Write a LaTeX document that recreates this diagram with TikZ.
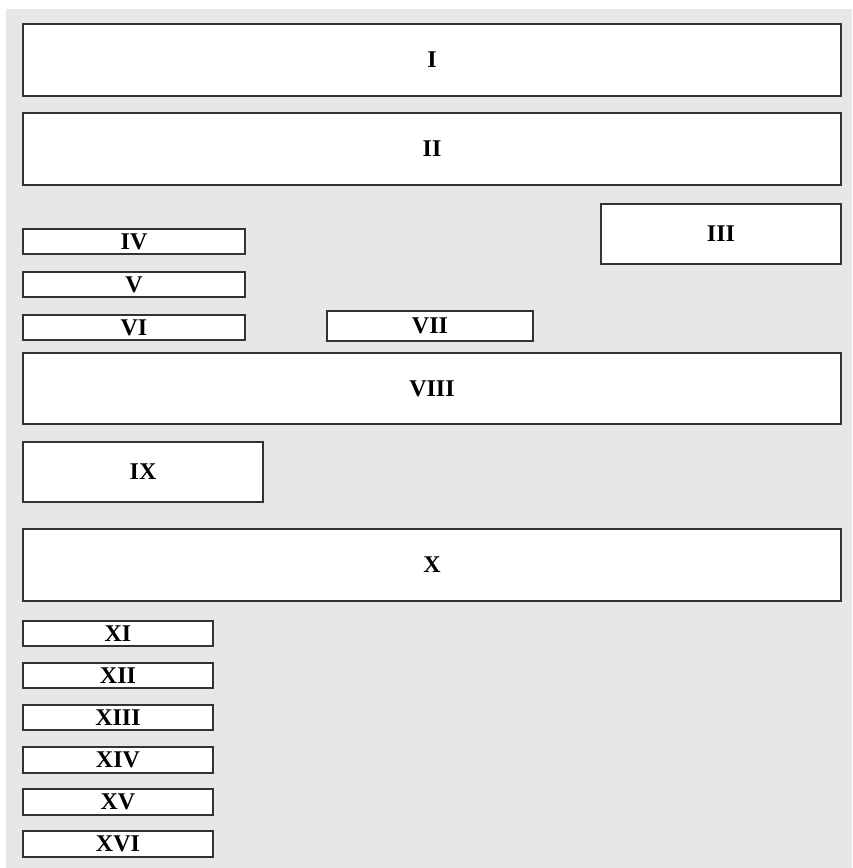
\documentclass[tikz,border=0pt]{standalone}
\usepackage{fontspec}
\setmainfont{Liberation Serif}
\definecolor{bgc}{HTML}{E6E7E9}
\definecolor{edge}{HTML}{333333}
\begin{document}
\begin{tikzpicture}[x=1pt,y=-1pt,
  box/.style={draw=edge, fill=white, line width=1.3pt, inner sep=0pt, outer sep=0pt,
    anchor=north west, font=\bfseries\fontsize{24}{24}\selectfont},
  wide/.style={box, minimum width=818pt, minimum height=72pt},
  small/.style={box, minimum width=222pt, minimum height=25pt},
  tiny/.style={box, minimum width=190pt, minimum height=25pt}]
\useasboundingbox (0,0) rectangle (852,868);
\fill[bgc] (6,9) rectangle (852,868);
\node[wide] (n1) at (23,24) {I};
\node[wide] (n2) at (23,113) {II};
\node[box, minimum width=240pt, minimum height=60pt] (n3) at (601,204) {III};
\node[small] (n4) at (23,229) {IV};
\node[small] (n5) at (23,272) {V};
\node[small] (n6) at (23,315) {VI};
\node[box, minimum width=206pt, minimum height=30pt] (n7) at (327,311) {VII};
\node[wide, minimum height=71pt] (n8) at (23,353) {VIII};
\node[box, minimum width=240pt, minimum height=60pt] (n9) at (23,442) {IX};
\node[wide] (n10) at (23,529) {X};
\node[tiny] (n11) at (23,621) {XI};
\node[tiny] (n12) at (23,663) {XII};
\node[tiny] (n13) at (23,705) {XIII};
\node[tiny, minimum height=26pt] (n14) at (23,747) {XIV};
\node[tiny, minimum height=26pt] (n15) at (23,789) {XV};
\node[tiny, minimum height=26pt] (n16) at (23,831) {XVI};
\end{tikzpicture}
\end{document}
